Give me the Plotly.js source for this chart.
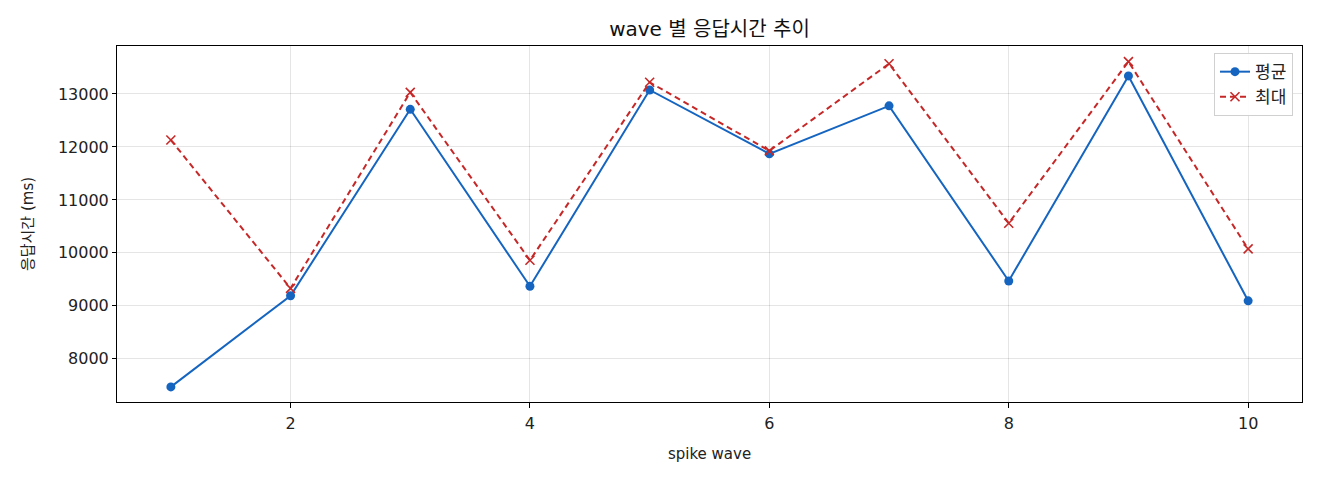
<!DOCTYPE html>
<html>
<head>
<meta charset="utf-8">
<script src="https://cdn.plot.ly/plotly-3.0.1.min.js"></script>
<style>
  html, body { margin: 0; padding: 0; background: #fff; }
  #chart { width: 1320px; height: 480px; }
</style>
</head>
<body>
<div id="chart"></div>
<script>
// wave number on x
const waves = [1, 2, 3, 4, 5, 6, 7, 8, 9, 10];
// response time in ms
const avgMs = [7470, 9190, 12710, 9370, 13075, 11870, 12775, 9470, 13340, 9095];
const maxMs = [12130, 9330, 13030, 9860, 13220, 11925, 13570, 10560, 13610, 10075];

const fontFamily = '"DejaVu Sans", "Noto Sans CJK KR", sans-serif';

const avgTrace = {
    x: waves,
    y: avgMs,
    mode: 'lines+markers',
    name: '평균',
    type: 'scatter',
    line: { color: '#1565c0', width: 2 },
    marker: { symbol: 'circle', size: 9, color: '#1565c0' }
};

const maxTrace = {
    x: waves,
    y: maxMs,
    mode: 'lines+markers',
    name: '최대',
    type: 'scatter',
    line: { color: '#c62828', width: 2, dash: '6px,4px' },
    marker: { symbol: 'x-thin', size: 9, line: { color: '#c62828', width: 1.6 } }
};

const layout = {
    width: 1320,
    height: 480,
    margin: { l: 117, r: 18, t: 46, b: 78 },
    paper_bgcolor: '#fff',
    plot_bgcolor: '#fff',
    font: { family: fontFamily, size: 15, color: '#222' },
    title: {
        text: 'wave 별 응답시간 추이',
        x: 0.5 + (117 - 18) / 2 / 1320,
        xanchor: 'center',
        y: 1 - 29 / 480,
        yanchor: 'middle',
        font: { family: fontFamily, size: 20, color: '#111' }
    },
    xaxis: {
        title: { text: 'spike wave', font: { size: 15 }, standoff: 16 },
        range: [0.55, 10.45],
        tickvals: [2, 4, 6, 8, 10],
        tickfont: { size: 16 },
        ticks: 'outside',
        ticklen: 5,
        ticklabelstandoff: 2,
        tickcolor: '#000',
        showline: true,
        linecolor: '#000',
        linewidth: 1,
        mirror: true,
        showgrid: true,
        gridcolor: 'rgba(0,0,0,0.1)',
        zeroline: false
    },
    yaxis: {
        title: { text: '응답시간 (ms)', font: { size: 15 }, standoff: 20 },
        range: [7185, 13905],
        tickvals: [8000, 9000, 10000, 11000, 12000, 13000],
        tickformat: 'd',
        tickfont: { size: 16 },
        ticks: 'outside',
        ticklen: 4,
        tickcolor: '#000',
        showline: true,
        linecolor: '#000',
        linewidth: 1,
        mirror: true,
        showgrid: true,
        gridcolor: 'rgba(0,0,0,0.1)',
        zeroline: false
    },
    legend: {
        x: 0.9924,
        y: 0.98,
        xanchor: 'right',
        yanchor: 'top',
        bgcolor: 'rgba(255,255,255,0.9)',
        bordercolor: '#d0d0d0',
        borderwidth: 1,
        font: { size: 17 }
    },
    showlegend: true
};

Plotly.newPlot('chart', [avgTrace, maxTrace], layout, { displayModeBar: false, staticPlot: true });
</script>
</body>
</html>
